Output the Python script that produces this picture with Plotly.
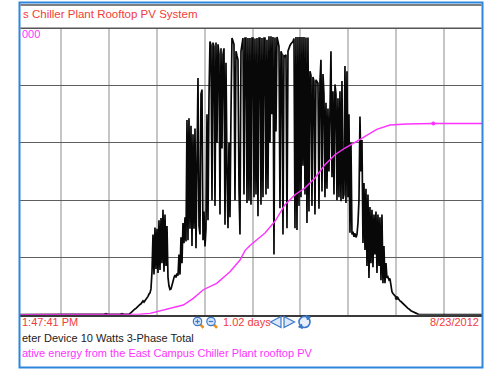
import plotly.graph_objects as go

W, H = 487, 369

# ---------------- data (hours of day / kW / kWh) ----------------
WINDOW_START_H = 2.288
WINDOW_END_H = 21.579
GRID_HOURS = [4, 6, 8, 10, 12, 14, 16, 18, 20]
POWER_GRID_KW = [0, 10, 20, 30, 40, 50]

POWER_START_H = 6.38
POWER_STEP_H = 2.505 / 60

power_kw = [
    0, 0, 0, 0, 0, 0, 0, 0, 0, 0,
    0, 0.1, 0.2, 0.4, 0.5, 0.6, 0.8, 1.0, 1.1, 1.3,
    1.5, 1.6, 1.8, 1.9, 2.3, 2.4, 2.2, 2.4, 2.8, 3.0,
    3.2, 3.6, 3.8, 4.5, 7.5, 14.0, 7.0, 15.2, 8.0, 15.0,
    7.3, 16.5, 7.8, 16.9, 9.0, 18.3, 7.5, 17.5, 8.5, 15.5,
    6.5, 5.0, 4.4, 4.5, 5.0, 5.8, 6.5, 6.9, 6.5, 7.2,
    6.8, 10.5, 7.0, 13.5, 9.0, 16.0, 12.5, 17.0, 12.8, 34.0,
    13.0, 34.3, 15.0, 33.0, 12.0, 31.5, 15.0, 32.5, 11.6, 30.8,
    41.3, 15.5, 14.0, 38.5, 39.3, 13.0, 18.0, 11.9, 15.0, 35.0,
    16.5, 38.0, 47.7, 47.0, 20.0, 47.5, 46.8, 19.0, 47.5, 30.0,
    47.2, 45.5, 17.5, 46.5, 29.0, 45.4, 46.5, 15.7, 44.0, 25.0,
    15.1, 30.0, 17.0, 35.0, 48.3, 47.8, 47.2, 20.0, 46.0, 45.2,
    44.5, 22.0, 14.0, 46.0, 47.5, 48.3, 21.0, 48.3, 48.3, 19.5,
    48.3, 20.0, 48.3, 19.2, 48.3, 48.3, 20.5, 48.2, 21.0, 48.3,
    17.2, 48.3, 48.3, 19.2, 48.3, 20.5, 48.3, 48.3, 21.0, 48.0,
    22.0, 48.6, 30.0, 48.6, 35.0, 48.5, 10.5, 48.4, 32.0, 48.5,
    47.7, 46.8, 18.6, 46.0, 45.5, 14.0, 45.2, 45.1, 45.4, 15.1,
    46.0, 46.6, 47.0, 47.3, 47.5, 47.7, 48.2, 15.1, 48.5, 14.8,
    48.5, 19.0, 48.5, 20.5, 48.5, 26.0, 48.5, 21.0, 48.4, 16.0,
    48.4, 18.0, 42.5, 41.8, 19.0, 41.5, 40.8, 17.5, 41.0, 40.6,
    40.4, 18.5, 40.8, 44.5, 21.5, 42.0, 38.5, 20.5, 37.0, 22.0,
    36.0, 25.0, 38.0, 46.0, 24.0, 39.0, 21.0, 40.2, 38.5, 20.0,
    37.8, 20.5, 39.0, 19.8, 40.8, 20.2, 21.0, 43.4, 19.5, 42.5,
    20.5, 35.0, 14.3, 30.0, 14.0, 14.5, 13.6, 14.2, 13.5, 14.0,
    16.0, 20.0, 34.6, 25.0, 30.5, 12.5, 23.0, 11.3, 22.0, 8.5,
    21.0, 6.4, 18.8, 9.0, 18.3, 8.3, 17.5, 10.5, 18.0, 7.3,
    17.5, 8.5, 17.0, 6.0, 17.5, 5.5, 12.0, 5.5, 9.0, 6.4,
    6.6, 6.1, 6.3, 5.0, 4.0, 3.7, 3.5, 3.2, 3.0, 2.9,
    2.9, 2.6, 2.4, 2.3, 2.1, 2.0, 1.8, 1.6, 1.4, 1.3,
    1.1, 1.0, 0.8, 0.7, 0.6, 0.5, 0.4, 0.3, 0.2, 0.1,
    0.1, 0.05, 0, 0, 0, 0, 0, 0, 0, 0,
]

energy_hours = [2.288, 7.006, 7.299, 7.716, 8.134, 8.551, 9.107, 9.524, 9.942,
                10.501, 11.056, 11.474, 11.682, 11.891, 12.100, 12.518, 12.935,
                13.353, 13.770, 14.188, 14.605, 15.023, 15.441, 15.858, 16.276,
                16.693, 17.182, 17.737, 18.434, 19.545, 21.579]
energy_kwh = [0, 0, 0.9, 2.4, 7.0, 11.7, 16.9, 28.6, 43.6,
              54.8, 75.1, 95.5, 112.0, 120.8, 128.1, 142.6, 163.1,
              192.0, 209.5, 221.2, 238.7, 261.9, 279.3, 291.0, 301.0,
              310.8, 323.7, 331.2, 332.9, 333.8, 333.8]
ENERGY_AXIS_MAX = 500

# sample markers visible on the lines
power_mark_hours = [5.879, 6.547, 18.017]
power_mark_kw = [0, 0, 2.9]
energy_mark_hours = [19.545]
energy_mark_kwh = [333.8]

title_text = "s Chiller Plant Rooftop PV System"
axis_top_label = "000"
start_label = "1:47:41 PM"
span_label = "1.02 days"
end_label = "8/23/2012"
legend_power = "eter Device 10 Watts 3-Phase Total"
legend_energy = "ative energy from the East Campus Chiller Plant rooftop PV"

# ---------------- helpers (layout positions in pixels -> paper) ----------------
def px(x):
    return x / W

def py(y):
    return 1 - y / H

power_hours = [WINDOW_START_H] + [POWER_START_H + i * POWER_STEP_H for i in range(len(power_kw))] + [WINDOW_END_H]
power_vals = [0] + power_kw + [0]

RED = "#f03c3c"
MAG = "#ff33ff"
BLUE = "#2e86de"
ICON = "#3a78c8"

fig = go.Figure()
fig.add_trace(go.Scatter(x=energy_hours, y=energy_kwh, mode="lines", yaxis="y2",
                         line=dict(color=MAG, width=1.4), hoverinfo="skip"))
fig.add_trace(go.Scatter(x=energy_mark_hours, y=energy_mark_kwh, mode="markers", yaxis="y2",
                         marker=dict(color=MAG, size=4), hoverinfo="skip"))
fig.add_trace(go.Scatter(x=power_hours, y=power_vals, mode="lines",
                         line=dict(color="#080808", width=1.7), hoverinfo="skip"))
fig.add_trace(go.Scatter(x=power_mark_hours, y=power_mark_kw, mode="markers",
                         marker=dict(color="#111111", size=4), hoverinfo="skip"))

shapes = []
# outer blue frame
shapes.append(dict(type="rect", xref="paper", yref="paper", x0=px(19.5), x1=px(482.5),
                   y0=py(367.5), y1=py(2.5), line=dict(color=BLUE, width=2)))
# header lines
shapes.append(dict(type="line", xref="paper", yref="paper", x0=px(20.5), x1=px(481.5),
                   y0=py(5), y1=py(5), line=dict(color="#555555", width=1.5)))
shapes.append(dict(type="line", xref="paper", yref="paper", x0=px(20.5), x1=px(481.5),
                   y0=py(28.3), y1=py(28.3), line=dict(color="#555555", width=1.5)))

# zoom-in / zoom-out icons
for cx, sign in [(197.5, "+"), (211.0, "-")]:
    shapes.append(dict(type="line", xref="paper", yref="paper", x0=px(cx + 2.8), y0=py(324.3),
                       x1=px(cx + 6.0), y1=py(327.8), line=dict(color="#e8901e", width=2.6)))
    shapes.append(dict(type="circle", xref="paper", yref="paper", x0=px(cx - 4.2), x1=px(cx + 4.2),
                       y0=py(325.7), y1=py(317.3), fillcolor="#d6e6f8", line=dict(color=ICON, width=1.2)))
    shapes.append(dict(type="line", xref="paper", yref="paper", x0=px(cx - 2.2), x1=px(cx + 2.2),
                       y0=py(321.5), y1=py(321.5), line=dict(color=ICON, width=1.2)))
    if sign == "+":
        shapes.append(dict(type="line", xref="paper", yref="paper", x0=px(cx), x1=px(cx),
                           y0=py(319.3), y1=py(323.7), line=dict(color=ICON, width=1.2)))

# left / right arrows
def path(pts):
    return "M " + " L ".join(f"{px(a):.5f},{py(b):.5f}" for a, b in pts) + " Z"

shapes.append(dict(type="path", xref="paper", yref="paper",
                   path=path([(281, 316.5), (270.5, 322), (281, 327.5)]),
                   fillcolor="#dbe8fa", line=dict(color=ICON, width=1.2)))
shapes.append(dict(type="path", xref="paper", yref="paper",
                   path=path([(284, 316.5), (294.5, 322), (284, 327.5)]),
                   fillcolor="#dbe8fa", line=dict(color=ICON, width=1.2)))
# refresh icon
shapes.append(dict(type="circle", xref="paper", yref="paper", x0=px(299), x1=px(310),
                   y0=py(327.5), y1=py(316.5), fillcolor="#e6effb", line=dict(color=ICON, width=1.6)))
shapes.append(dict(type="path", xref="paper", yref="paper",
                   path=path([(306, 315.5), (310.5, 317), (307.5, 320)]),
                   fillcolor=ICON, line=dict(color=ICON, width=1)))
shapes.append(dict(type="path", xref="paper", yref="paper",
                   path=path([(302.5, 328.5), (298.5, 327), (301.5, 324)]),
                   fillcolor=ICON, line=dict(color=ICON, width=1)))

FONT = "Liberation Sans, Arial, sans-serif"

def label(x, y, text, color, size=11):
    return dict(xref="paper", yref="paper", x=px(x), y=py(y), text=text, showarrow=False,
                xanchor="left", yanchor="middle", font=dict(family=FONT, size=size, color=color))

annotations = [
    label(20.5, 13.5, title_text, RED, 11.5),
    label(20.3, 33.8, axis_top_label, MAG, 11),
    label(20.3, 322, start_label, RED, 11),
    label(221.3, 322, span_label, RED, 11),
    label(427.5, 322, end_label, RED, 11),
    label(20.3, 337.5, legend_power, "#222222", 11),
    label(20.3, 352.5, legend_energy, MAG, 11),
]

fig.update_layout(
    width=W, height=H,
    margin=dict(l=0, r=0, t=0, b=0),
    paper_bgcolor="white", plot_bgcolor="white",
    showlegend=False,
    xaxis=dict(domain=[px(20), px(482)], range=[WINDOW_START_H, WINDOW_END_H],
               tickmode="array", tickvals=GRID_HOURS, showticklabels=False, ticks="",
               showgrid=True, gridcolor="#c6c6c6", gridwidth=2, zeroline=False,
               showline=True, linecolor="#3a3a3a", linewidth=1.6, fixedrange=True),
    yaxis=dict(domain=[1 - 314.7 / H, 1 - 28.3 / H], range=[0, 50],
               tickmode="array", tickvals=POWER_GRID_KW, showticklabels=False, ticks="",
               showgrid=True, gridcolor="#5e5e5e", gridwidth=1, zeroline=False,
               showline=False, fixedrange=True),
    yaxis2=dict(overlaying="y", range=[0, ENERGY_AXIS_MAX], showgrid=False,
                showticklabels=False, ticks="", zeroline=False, showline=False, fixedrange=True),
    shapes=shapes,
    annotations=annotations,
)

fig.write_html("out.html", config={"displayModeBar": False},
               post_script="document.body.style.margin='0';document.body.style.padding='0';")
